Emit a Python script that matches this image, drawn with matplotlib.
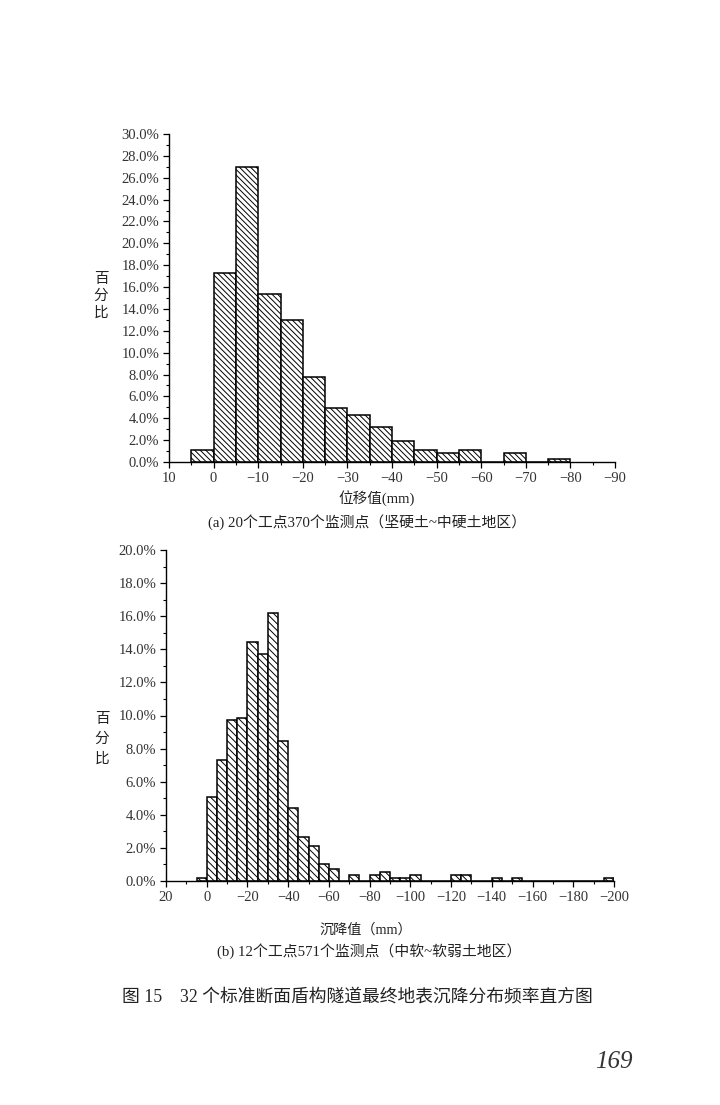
import numpy as np
import matplotlib
matplotlib.use("Agg")
import matplotlib.pyplot as plt
from matplotlib.ticker import MultipleLocator, FuncFormatter

# ---------------- data ----------------
# (a) 20 sites, 370 points: bin edges every -5 mm starting at +5
bins_a_start = 5
bins_a_width = -5
pct_a = [1.1, 17.3, 27.0, 15.4, 13.0, 7.8, 4.9, 4.3, 3.2, 1.9,
         1.1, 0.8, 1.1, 0.0, 0.8, 0.0, 0.3]

# (b) 12 sites, 571 points
bins_b_start = 5
bins_b_width = -5
pct_b = [0.18, 5.06, 7.31, 9.73, 9.87, 14.46, 13.74, 16.21, 8.46, 4.43,
         2.68, 2.1, 1.05, 0.7, 0.0, 0.35, 0.0, 0.35, 0.53, 0.18,
         0.18, 0.35, 0.0, 0.0, 0.0, 0.35, 0.35, 0.0, 0.0, 0.18,
         0.0, 0.18, 0.0, 0.0, 0.0, 0.0, 0.0, 0.0, 0.0, 0.0,
         0.18]

xticks_a = [10, 0, -10, -20, -30, -40, -50, -60, -70, -80, -90]
xticks_b = [20, 0, -20, -40, -60, -80, -100, -120, -140, -160, -180, -200]

ylabel = "百\n分\n比"
xlabel_a = "位移值(mm)"
xlabel_b = "沉降值（mm）"
caption_a = "(a) 20个工点370个监测点（坚硬土~中硬土地区）"
caption_b = "(b) 12个工点571个监测点（中软~软弱土地区）"
fig_caption = "图 15　32 个标准断面盾构隧道最终地表沉降分布频率直方图"
page_no = "169"

# ---------------- style ----------------
SERIF = "Liberation Serif"
CJK = "Noto Sans CJK SC"
MIX = [SERIF, CJK]
plt.rcParams["hatch.linewidth"] = 0.7
plt.rcParams["font.family"] = MIX

fig = plt.figure(figsize=(7.2, 11.05), dpi=100)
fig.patch.set_facecolor("white")


def fmt_x(v, pos):
    v = int(round(v))
    return ("\u2212%d" % -v) if v < 0 else "%d" % v


def draw_hist(ax, start, width, values, hatch, xlim, ylim, xmin, xticks):
    edges = start + width * np.arange(len(values))
    ax.bar(edges, values, width=width, align="edge", bottom=0,
           facecolor="white", edgecolor="black", linewidth=1.1, hatch=hatch)
    ax.set_xlim(*xlim)
    ax.set_ylim(*ylim)
    for s in ["top", "right"]:
        ax.spines[s].set_visible(False)
    for s in ["left", "bottom"]:
        ax.spines[s].set_linewidth(1.0)
    ax.set_xticks(xticks)
    ax.xaxis.set_minor_locator(MultipleLocator(xmin))
    ax.xaxis.set_major_formatter(FuncFormatter(fmt_x))
    ax.yaxis.set_major_locator(MultipleLocator(2))
    ax.yaxis.set_minor_locator(MultipleLocator(1))
    ax.yaxis.set_major_formatter(FuncFormatter(lambda v, p: "%.1f%%" % v))
    ax.tick_params(axis="both", which="major", direction="out", length=4.5,
                   width=0.9, labelsize=10.5, pad=2.5)
    ax.tick_params(axis="both", which="minor", direction="out", length=2.5,
                   width=0.8)
    for lab in ax.get_xticklabels() + ax.get_yticklabels():
        lab.set_fontfamily(SERIF)
        lab.set_color("#333333")


ax1 = fig.add_axes([169 / 720, 1 - 462 / 1105, 446 / 720, 328 / 1105])
draw_hist(ax1, bins_a_start, bins_a_width, pct_a, "\\" * 6,
          (10, -90), (0, 30), 5, xticks_a)

ax2 = fig.add_axes([166 / 720, 1 - 881 / 1105, 448 / 720, 331 / 1105])
draw_hist(ax2, bins_b_start, bins_b_width, pct_b, "\\" * 5,
          (20, -200), (0, 20), 10, xticks_b)

# labels
fig.text(101 / 720, 1 - 296 / 1105, ylabel, family=CJK, fontsize=10.5,
         ha="center", va="center", linespacing=1.25, color="#222222")
fig.text(102 / 720, 1 - 739 / 1105, ylabel, family=CJK, fontsize=10.5,
         ha="center", va="center", linespacing=1.5, color="#222222")

fig.text(377 / 720, 1 - 498 / 1105, xlabel_a, family=MIX, fontsize=10.5,
         ha="center", va="center", color="#222222")
fig.text(367 / 720, 1 - 522 / 1105, caption_a, family=MIX, fontsize=10.7,
         ha="center", va="center", color="#222222")
fig.text(366 / 720, 1 - 930 / 1105, xlabel_b, family=MIX, fontsize=10.2,
         ha="center", va="center", color="#222222")
fig.text(369 / 720, 1 - 951 / 1105, caption_b, family=MIX, fontsize=10.7,
         ha="center", va="center", color="#222222")
fig.text(357 / 720, 1 - 997 / 1105, fig_caption, family=MIX, fontsize=12.8,
         ha="center", va="center", color="#222222")
fig.text(633 / 720, 1 - 1062 / 1105, page_no, family=SERIF, style="italic",
         fontsize=18, ha="right", va="center", color="#333333")

fig.savefig("out.png", dpi=100, facecolor="white")
